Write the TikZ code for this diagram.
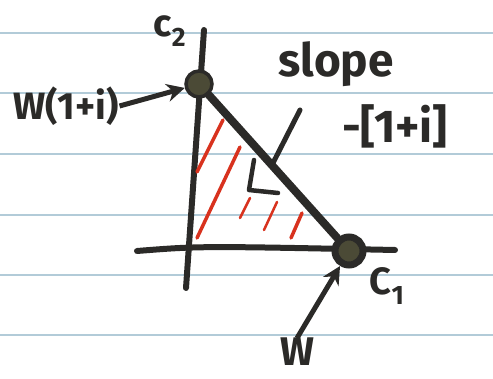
\documentclass[tikz,border=0pt]{standalone}
\usepackage{fontspec}
\newfontfamily\handf{Fira Sans}
\usetikzlibrary{arrows.meta,positioning}
\definecolor{inkc}{HTML}{2B2A28}
\definecolor{dotc}{HTML}{4B4A36}
\definecolor{redc}{HTML}{D8321E}
\definecolor{rulec}{HTML}{B2CBD8}
\tikzset{
  rule/.style={line width=1.6pt,rulec},
  pen/.style={line width=6pt,inkc,line cap=round,line join=round},
  hatch/.style={line width=3.5pt,redc,line cap=round},
  dot/.style={circle,draw=inkc,line width=3.5pt,fill=dotc,minimum size=26pt,inner sep=0pt},
  hand/.style={font=\handf\bfseries\fontsize{38}{40}\selectfont,text=inkc,inner sep=1pt},
  handbig/.style={font=\handf\bfseries\fontsize{46}{48}\selectfont,text=inkc,inner sep=1pt},
  arw/.style={-{Stealth[length=18pt,width=18pt]},line width=5pt,inkc}
}

\begin{document}
\begin{tikzpicture}[x=1pt,y=-1pt]
\useasboundingbox (0,0) rectangle (493,379);
% ruled paper
\foreach \yy in {33,93,154,215,275,335} \draw[rule] (0,\yy)--(493,\yy);
% axes
\draw[pen] (204,30)--(186,288);
\draw[pen] (137,251) .. controls (200,246) .. (395,250);
% shaded region
\draw[hatch] (223,120)--(197,172);
\draw[hatch] (240,147)--(197,238);
\draw[hatch,line width=2.5pt] (250,198)--(240,218);
\draw[hatch,line width=2.5pt] (277,202)--(264,230);
\draw[hatch] (302,213)--(291,238);
% normal and right angle
\draw[pen,line width=5pt] (300,110)--(273,163);
\draw[pen,line width=4.5pt] (254,160)--(249,190)--(278,193);
% corner points
\node[dot] (c2dot) at (199,84) {};
\node[dot,minimum size=28pt,line width=7pt] (c1dot) at (349,251) {};
\draw[pen,line width=8pt] (c2dot)--(c1dot);
% labels
\node[hand] (c2lab) at (170,31) {c\textsubscript{2}};
\node[hand] (wlab) at (66,106) {W(1+i)};
\node[handbig] (slab) at (336,64) {slope};
\node[handbig] (mlab) at (395,126) {-[1+i]};
\node[hand] (c1lab) at (387,286) {C\textsubscript{1}};
\node[hand,font=\handf\bfseries\fontsize{40}{42}\selectfont,inner sep=0pt,anchor=base] (wtag) at (297,366) {W};
\draw[arw] (wlab.east) -- (c2dot);
\draw[arw] (wtag.north) -- (c1dot);
\end{tikzpicture}
\end{document}
